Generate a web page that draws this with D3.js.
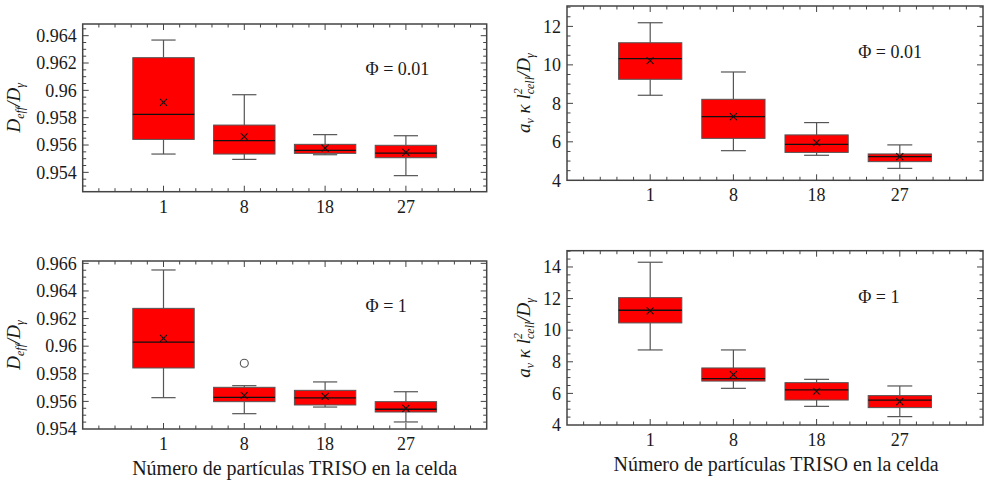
<!DOCTYPE html>
<html><head><meta charset="utf-8">
<script src="https://cdn.jsdelivr.net/npm/d3@7"></script>
<style>
body{margin:0;background:#fff}
text{font-family:"Liberation Serif","DejaVu Serif",serif;fill:#1a1a1a}
</style>
</head><body>
<svg id="chart" width="985" height="482"></svg>
<script>
// categories on the x axis (number of TRISO particles per cell)
const categories=["1","8","18","27"];

// box stats: lo / q1 / med / q3 / hi / mean
const deffPhi001=[
  {lo:0.95534,q1:0.95641,med:0.95824,q3:0.96239,hi:0.96368,mean:0.95912},
  {lo:0.95495,q1:0.95534,med:0.95632,q3:0.95746,hi:0.95968,mean:0.95661},
  {lo:0.95529,q1:0.95539,med:0.95561,q3:0.95605,hi:0.95676,mean:0.95578},
  {lo:0.95376,q1:0.95507,med:0.95541,q3:0.95598,hi:0.95668,mean:0.95546}
];
const kappaPhi001=[
  {lo:8.42,q1:9.25,med:10.32,q3:11.15,hi:12.19,mean:10.22},
  {lo:5.54,q1:6.18,med:7.31,q3:8.21,hi:9.63,mean:7.31},
  {lo:5.30,q1:5.45,med:5.87,q3:6.36,hi:7.00,mean:5.96},
  {lo:4.62,q1:4.97,med:5.23,q3:5.37,hi:5.84,mean:5.23}
];
const deffPhi1=[
  {lo:0.95627,q1:0.95842,med:0.96030,q3:0.96274,hi:0.96552,mean:0.96057},
  {lo:0.95511,q1:0.95598,med:0.95629,q3:0.95702,hi:0.95714,mean:0.95644},
  {lo:0.95559,q1:0.95574,med:0.95625,q3:0.95680,hi:0.95741,mean:0.95637},
  {lo:0.95451,q1:0.95523,med:0.95543,q3:0.95598,hi:0.95670,mean:0.95550}
];
const deffPhi1Outliers=[{cat:"8",value:0.95876}];
const kappaPhi1=[
  {lo:8.75,q1:10.46,med:11.26,q3:12.06,hi:14.30,mean:11.22},
  {lo:6.32,q1:6.78,med:6.93,q3:7.61,hi:8.75,mean:7.19},
  {lo:5.18,q1:5.58,med:6.22,q3:6.68,hi:6.89,mean:6.13},
  {lo:4.53,q1:5.10,med:5.58,q3:5.86,hi:6.47,mean:5.48}
];

// tick labels
const deffTicks001=[0.954,0.956,0.958,0.96,0.962,0.964];
const deffTicks1=[0.954,0.956,0.958,0.96,0.962,0.964,0.966];
const kappaTicks001=[4,6,8,10,12];
const kappaTicks1=[4,6,8,10,12,14];
const xTitle="Número de partículas TRISO en la celda";

const panels=[
  {data:deffPhi001,out:[],ticks:deffTicks001,minor:0.0005,dom:[0.952585,0.964854],
   phi:"Φ = 0.01",box:[82.7,24,486.7,191.7],lab:"deff",title:false},
  {data:kappaPhi001,out:[],ticks:kappaTicks001,minor:0.5,dom:[4,13.06],
   phi:"Φ = 0.01",box:[567,6,983,180.3],lab:"kappa",title:false},
  {data:deffPhi1,out:deffPhi1Outliers,ticks:deffTicks1,minor:0.0005,dom:[0.954,0.96617],
   phi:"Φ = 1",box:[82.7,261,486.7,429],lab:"deff",title:true},
  {data:kappaPhi1,out:[],ticks:kappaTicks1,minor:0.5,dom:[4,15.03],
   phi:"Φ = 1",box:[567,250.7,983,425],lab:"kappa",title:true}
];

const svg=d3.select("#chart");
const fmt=v=>String(+v.toFixed(4));

panels.forEach(p=>{
  const [L,T,R,B]=p.box;
  const x=d3.scaleLinear().domain([0,5]).range([L,R]);
  const y=d3.scaleLinear().domain(p.dom).range([B,T]);
  const g=svg.append("g");
  const xi=d=>categories.indexOf(d)+1;
  const bw=x(0.38)-x(0);
  const cw=x(0.15)-x(0);

  // whiskers
  const box=g.selectAll(".bx").data(p.data).join("g");
  box.append("line").attr("x1",(d,i)=>x(i+1)).attr("x2",(d,i)=>x(i+1))
    .attr("y1",d=>y(d.hi)).attr("y2",d=>y(d.q3)).attr("stroke","#555").attr("stroke-width",1.2);
  box.append("line").attr("x1",(d,i)=>x(i+1)).attr("x2",(d,i)=>x(i+1))
    .attr("y1",d=>y(d.lo)).attr("y2",d=>y(d.q1)).attr("stroke","#555").attr("stroke-width",1.2);
  box.append("line").attr("x1",(d,i)=>x(i+1)-cw).attr("x2",(d,i)=>x(i+1)+cw)
    .attr("y1",d=>y(d.hi)).attr("y2",d=>y(d.hi)).attr("stroke","#555").attr("stroke-width",1.2);
  box.append("line").attr("x1",(d,i)=>x(i+1)-cw).attr("x2",(d,i)=>x(i+1)+cw)
    .attr("y1",d=>y(d.lo)).attr("y2",d=>y(d.lo)).attr("stroke","#555").attr("stroke-width",1.2);
  box.append("rect").attr("x",(d,i)=>x(i+1)-bw).attr("width",2*bw)
    .attr("y",d=>y(d.q3)).attr("height",d=>y(d.q1)-y(d.q3))
    .attr("fill","#ff0000").attr("stroke","#555").attr("stroke-width",1);
  box.append("line").attr("x1",(d,i)=>x(i+1)-bw).attr("x2",(d,i)=>x(i+1)+bw)
    .attr("y1",d=>y(d.med)).attr("y2",d=>y(d.med)).attr("stroke","#111").attr("stroke-width",1.3);
  box.append("path")
    .attr("d",(d,i)=>{const cx=x(i+1),cy=y(d.mean),s=3.5;
      return `M${cx-s},${cy-s}L${cx+s},${cy+s}M${cx-s},${cy+s}L${cx+s},${cy-s}`;})
    .attr("stroke","#111").attr("stroke-width",1.1);

  g.selectAll(".out").data(p.out).join("circle")
    .attr("cx",d=>x(xi(d.cat))).attr("cy",d=>y(d.value)).attr("r",4)
    .attr("fill","none").attr("stroke","#555").attr("stroke-width",1.1);

  // frame
  g.append("rect").attr("x",L).attr("y",T).attr("width",R-L).attr("height",B-T)
    .attr("fill","none").attr("stroke","#444").attr("stroke-width",1.5);

  // x ticks (inward, top and bottom)
  const xMinor=d3.range(0,26).map(i=>+(i*0.2).toFixed(2)).filter(v=>v>0&&v<5);
  const tk=g.append("g").attr("stroke","#444").attr("stroke-width",1);
  xMinor.forEach(v=>{
    const len=Number.isInteger(v)?6:3.5;
    tk.append("line").attr("x1",x(v)).attr("x2",x(v)).attr("y1",B).attr("y2",B-len);
    tk.append("line").attr("x1",x(v)).attr("x2",x(v)).attr("y1",T).attr("y2",T+len);
  });
  // y ticks (inward, left and right)
  const n=Math.round((p.dom[1]-p.dom[0])/p.minor)+2;
  const start=Math.ceil(p.dom[0]/p.minor-1e-6);
  d3.range(start,start+n).map(k=>k*p.minor).filter(v=>v>p.dom[0]+1e-9&&v<p.dom[1]).forEach(v=>{
    const major=p.ticks.some(t=>Math.abs(t-v)<p.minor/10);
    const len=major?6:3.5;
    tk.append("line").attr("x1",L).attr("x2",L+len).attr("y1",y(v)).attr("y2",y(v));
    tk.append("line").attr("x1",R).attr("x2",R-len).attr("y1",y(v)).attr("y2",y(v));
  });

  // tick labels
  g.selectAll(".yl").data(p.ticks).join("text")
    .attr("x",L-6).attr("y",d=>y(d)).attr("dy","0.35em")
    .attr("text-anchor","end").attr("font-size",18).text(fmt);
  g.selectAll(".xl").data(categories).join("text")
    .attr("x",(d,i)=>x(i+1)).attr("y",B+21)
    .attr("text-anchor","middle").attr("font-size",18).text(d=>d);

  // phi annotation
  g.append("text").attr("x",x(3.5)).attr("y",T+(p.lab==="deff"?51:52))
    .attr("font-size",18).text(p.phi);

  // y label
  const yl=g.append("text")
    .attr("transform",`translate(${L-(p.lab==="deff"?63:37)},${(T+B)/2}) rotate(-90)`)
    .attr("text-anchor","middle").attr("font-size",19).attr("font-style","italic");
  if(p.lab==="deff"){
    yl.append("tspan").text("D");
    yl.append("tspan").attr("font-size",12).attr("dy",4).text("eff");
    yl.append("tspan").attr("dy",-4).text("/D");
    yl.append("tspan").attr("font-size",12).attr("dy",4).text("γ");
  }else{
    yl.append("tspan").text("a");
    yl.append("tspan").attr("font-size",12).attr("dy",4).text("v");
    yl.append("tspan").attr("dy",-4).text(" κ l");
    yl.append("tspan").attr("font-size",12).attr("dy",-8).text("2");
    yl.append("tspan").attr("font-size",12).attr("dx",-6).attr("dy",12).text("cell");
    yl.append("tspan").attr("dy",-4).text("/D");
    yl.append("tspan").attr("font-size",12).attr("dy",4).text("γ");
  }

  if(p.title){
    g.append("text").attr("x",(L+R)/2+(p.lab==="deff"?10:1)).attr("y",B+46)
      .attr("text-anchor","middle").attr("font-size",20).text(xTitle);
  }
});
</script>
</body></html>
